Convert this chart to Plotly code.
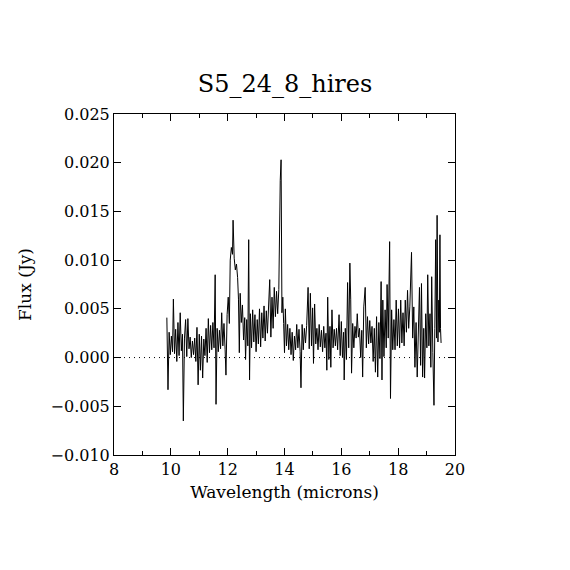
import plotly.graph_objects as go

# IRS high-resolution spectrum
wavelength = [
    9.86, 9.90, 9.94, 9.98, 10.02, 10.06, 10.09, 10.13, 10.17, 10.21,
    10.25, 10.29, 10.33, 10.37, 10.41, 10.44, 10.48, 10.52, 10.56, 10.60,
    10.64, 10.68, 10.72, 10.76, 10.80, 10.84, 10.88, 10.92, 10.96, 11.00,
    11.04, 11.08, 11.12, 11.16, 11.20, 11.24, 11.28, 11.32, 11.36, 11.40,
    11.44, 11.48, 11.52, 11.56, 11.59, 11.63, 11.67, 11.71, 11.75, 11.79,
    11.83, 11.87, 11.91, 11.94, 11.98, 12.02, 12.06, 12.09, 12.13, 12.17,
    12.19, 12.23, 12.27, 12.31, 12.35, 12.38, 12.41, 12.44, 12.48, 12.52,
    12.56, 12.60, 12.63, 12.67, 12.71, 12.74, 12.77, 12.80, 12.84, 12.88,
    12.92, 12.96, 13.00, 13.04, 13.08, 13.12, 13.16, 13.20, 13.24, 13.28,
    13.32, 13.36, 13.40, 13.44, 13.48, 13.52, 13.56, 13.60, 13.64, 13.68,
    13.72, 13.76, 13.80, 13.85, 13.88, 13.91, 13.94, 13.97, 14.00, 14.03,
    14.07, 14.11, 14.15, 14.19, 14.23, 14.27, 14.31, 14.35, 14.39, 14.43,
    14.47, 14.51, 14.55, 14.58, 14.62, 14.66, 14.70, 14.74, 14.78, 14.83,
    14.87, 14.91, 14.95, 14.99, 15.02, 15.06, 15.10, 15.14, 15.18, 15.22,
    15.26, 15.30, 15.34, 15.38, 15.42, 15.46, 15.49, 15.52, 15.56, 15.60,
    15.63, 15.67, 15.71, 15.75, 15.79, 15.83, 15.87, 15.92, 15.96, 16.00,
    16.04, 16.08, 16.10, 16.14, 16.18, 16.22, 16.26, 16.30, 16.33, 16.36,
    16.40, 16.44, 16.48, 16.52, 16.56, 16.60, 16.64, 16.68, 16.72, 16.75,
    16.79, 16.84, 16.88, 16.92, 16.96, 17.00, 17.04, 17.08, 17.12, 17.16,
    17.20, 17.24, 17.28, 17.32, 17.36, 17.40, 17.43, 17.46, 17.50, 17.54,
    17.58, 17.61, 17.65, 17.70, 17.73, 17.77, 17.81, 17.85, 17.89, 17.93,
    17.97, 18.01, 18.05, 18.09, 18.13, 18.17, 18.21, 18.25, 18.29, 18.33,
    18.37, 18.41, 18.47, 18.51, 18.55, 18.59, 18.63, 18.67, 18.71, 18.75,
    18.79, 18.82, 18.86, 18.90, 18.93, 18.97, 19.01, 19.04, 19.08, 19.12,
    19.15, 19.18, 19.22, 19.26, 19.29, 19.32, 19.35, 19.37, 19.40, 19.43,
    19.45, 19.47, 19.49, 19.51,
]

# flux in mJy, converted to Jy below
flux_mjy = [
    4.1, -3.3, 2.6, 0.3, 2.2, 0.6, 6.0, 0.4, 2.9, -0.4,
    3.6, 0.2, 4.6, 0.7, 2.4, -6.5, 2.0, 3.9, 0.1, 4.0,
    0.9, 2.1, 0.0, 1.7, 0.3, 2.0, -0.4, 3.1, -2.8, 2.4,
    -1.3, 2.2, -2.1, 1.9, 0.2, 3.0, -0.5, 4.0, 0.5, 3.3,
    0.8, 3.6, 1.0, 8.5, -4.8, 3.0, 0.6, 2.8, 0.9, 4.6,
    1.2, 3.5, 0.8, -1.8, 4.4, 6.2, 3.5, 10.0, 11.3, 10.6,
    14.1, 10.2, 9.0, 9.6, 8.2, 6.0, 0.5, 6.6, 3.6, 5.4,
    1.8, 4.1, -0.2, 3.9, 1.2, 12.1, -2.3, 4.5, 1.0, 4.9,
    1.6, 4.4, 0.6, 3.9, 1.4, 5.0, 1.1, 4.6, 2.0, 5.3,
    1.7, 4.8, 2.5, 5.6, 8.0, 2.1, 6.2, 3.0, 7.2, 4.2,
    6.8, 4.5, 7.0, 18.2, 20.3, 4.6, 6.2, 3.5, 0.5, 5.0,
    1.2, 3.4, 0.8, 3.0, 0.3, 2.6, -0.3, 2.2, 0.8, 3.4,
    1.0, 2.9, 0.6, -3.1, 3.4, 0.8, 3.0, 1.5, 3.3, 7.2,
    0.9, 6.6, 1.2, 5.1, -0.6, 5.5, 1.4, 3.0, 0.8, 3.4,
    1.1, 2.8, 0.6, 3.2, 1.0, 2.5, -1.3, 6.2, -0.2, 3.2,
    -1.0, 4.9, 1.0, 2.9, 1.2, 3.0, 0.8, 4.4, 0.2, 3.7,
    0.0, 2.6, -2.3, 3.0, -0.2, 7.7, 1.0, 9.7, 6.0, -1.6,
    3.5, 1.0, 3.2, 2.0, 4.5, 2.1, 3.0, 0.0, 2.8, -2.0,
    5.2, 7.2, 1.0, 4.2, 1.4, 3.8, 1.5, 3.2, -0.4, 3.0,
    -1.5, 4.2, -2.0, 3.6, -0.1, 7.8, -2.3, 5.9, 0.1, 4.9,
    1.0, 7.5, 2.0, 11.9, -4.2, 4.9, 0.8, 3.9, 0.8, 5.9,
    1.2, 5.0, 1.0, 5.9, 1.5, 4.6, 1.2, 5.9, 2.6, 6.9,
    3.0, 5.2, 10.8, 2.0, 5.2, -1.0, 3.6, -2.0, 2.5, 7.2,
    -0.8, 7.6, -2.0, 3.0, -2.1, 4.5, 1.0, 8.5, 1.2, 4.5,
    -1.0, 8.3, 0.5, -4.9, 3.0, 12.1, 2.0, 14.6, 1.6, 5.9,
    2.6, 12.6, 3.0, 1.5,
]

flux = [v / 1000.0 for v in flux_mjy]

x_tickvals = [8, 10, 12, 14, 16, 18, 20]
y_tickvals = [-0.010, -0.005, 0.000, 0.005, 0.010, 0.015, 0.020, 0.025]

font_name = "DejaVu Serif"

fig = go.Figure()

fig.add_trace(
    go.Scatter(
        x=wavelength,
        y=flux,
        mode="lines",
        line=dict(color="black", width=1),
        showlegend=False,
    )
)

# dotted zero level
fig.add_hline(y=0, line=dict(color="black", width=1, dash="1px,4px"))

# the page puts the figure 8px in from the corner, so margins are shifted
fig.update_layout(
    width=570,
    height=570,
    margin=dict(l=106, r=123, t=106, b=123),
    paper_bgcolor="white",
    plot_bgcolor="white",
    font=dict(family=font_name, color="black", size=16),
    title=dict(
        text="S5_24_8_hires",
        x=0.486,
        xanchor="center",
        y=0.868,
        yanchor="middle",
        font=dict(family=font_name, size=24, color="black"),
    ),
)

fig.update_xaxes(
    range=[8, 20],
    tickvals=x_tickvals,
    ticks="inside",
    ticklen=7,
    tickcolor="black",
    minor=dict(dtick=1, ticks="inside", ticklen=4, tickcolor="black"),
    showline=True,
    linecolor="black",
    linewidth=1,
    mirror="ticks",
    showgrid=False,
    zeroline=False,
    title=dict(text="Wavelength (microns)", font=dict(size=17), standoff=7),
)

fig.update_yaxes(
    range=[-0.010, 0.025],
    tickvals=y_tickvals,
    tickformat=".3f",
    ticks="inside",
    ticklen=7,
    tickcolor="black",
    showline=True,
    linecolor="black",
    linewidth=1,
    mirror="ticks",
    showgrid=False,
    zeroline=False,
    title=dict(text="Flux (Jy)", font=dict(size=17), standoff=14),
)

fig.write_html("out.html")
